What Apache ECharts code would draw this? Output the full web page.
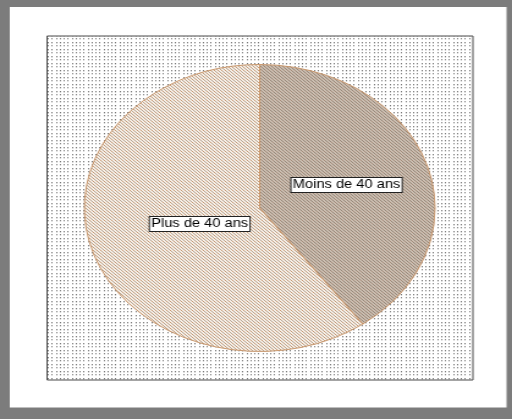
<!DOCTYPE html>
<html>
<head>
<meta charset="utf-8">
<script src="https://cdn.jsdelivr.net/npm/echarts@6/dist/echarts.min.js"></script>
<style>
  html, body { margin: 0; padding: 0; background: #ffffff; overflow: hidden; }
  #stage { width: 512px; height: 419px; position: relative; overflow: hidden; }
  /* the chart is laid out square and widened to the page, giving the oval pie */
  #chart { width: 419px; height: 419px; transform: scaleX(1.2220); transform-origin: 0 0; }
</style>
</head>
<body>
<div id="stage"><div id="chart"></div></div>
<script>
// Age groups and their shares (%)
const categories = ['Moins de 40 ans', 'Plus de 40 ans'];
const shares = [40, 60];

// Small tiled fills: diagonal hatching for the slices, dotted grid for the plot area
function hatch(base, line, accent) {
  const c = document.createElement('canvas');
  c.width = 3; c.height = 3;
  const g = c.getContext('2d');
  g.fillStyle = base; g.fillRect(0, 0, 3, 3);
  g.fillStyle = line;
  for (let i = 0; i < 3; i++) g.fillRect(i, i, 1, 1);
  g.fillStyle = accent; g.fillRect(1, 1, 1, 1);
  return c;
}
function dots() {
  const c = document.createElement('canvas');
  c.width = 13; c.height = 7;
  const g = c.getContext('2d');
  g.fillStyle = '#ffffff'; g.fillRect(0, 0, 13, 7);
  [0, 3, 7, 10].forEach(x => {
    g.fillStyle = '#7a7a7a'; g.fillRect(x, 0, 1, 1);
    g.fillStyle = '#d0d0d0'; g.fillRect(x, 1, 1, 1);
    g.fillStyle = '#8a8a8a'; g.fillRect(x, 3, 1, 1);
    g.fillStyle = '#d6d6d6'; g.fillRect(x, 4, 1, 1);
  });
  return c;
}

const sliceFills = [
  hatch('#cabdb0', '#978779', '#a68d7c'),
  hatch('#f6eee5', '#b7a594', '#c69c7a')
];

const chart = echarts.init(document.getElementById('chart'), null, { renderer: 'canvas' });

// Per-label nudges (px) from the default inside position
const labelShift = [[0, 0], [22, -7]];

chart.setOption({
  animation: false,
  graphic: [
    { type: 'rect', z: -10, shape: { x: 0, y: 0, width: 419, height: 419 }, style: { fill: '#7c7c7c' } },
    { type: 'rect', z: -9, shape: { x: 8, y: 7, width: 406.5, height: 400.5 }, style: { fill: '#ffffff' } },
    { type: 'rect', z: -8, shape: { x: 38.5, y: 36, width: 348.5, height: 344 },
      style: { fill: { image: dots(), repeat: 'repeat' }, stroke: '#4a4a4a', lineWidth: 1 } }
  ],
  series: [{
    type: 'pie',
    center: [212.5, 208],
    radius: [0, 143.5],
    startAngle: 90,
    clockwise: true,
    avoidLabelOverlap: false,
    itemStyle: { borderColor: '#c9976c', borderWidth: 1 },
    label: {
      show: true,
      position: 'inside',
      formatter: '{b}',
      fontFamily: 'Liberation Sans, Arial, sans-serif',
      fontSize: 12,
      lineHeight: 13,
      color: '#000000',
      backgroundColor: '#ffffff',
      borderColor: '#222222',
      borderWidth: 1,
      padding: [1, 1, 0, 1]
    },
    labelLayout: p => ({ dx: labelShift[p.dataIndex][0], dy: labelShift[p.dataIndex][1] }),
    emphasis: { disabled: true },
    data: categories.map((name, i) => ({
      name: name,
      value: shares[i],
      itemStyle: { color: { image: sliceFills[i], repeat: 'repeat' } }
    }))
  }]
});
</script>
</body>
</html>
